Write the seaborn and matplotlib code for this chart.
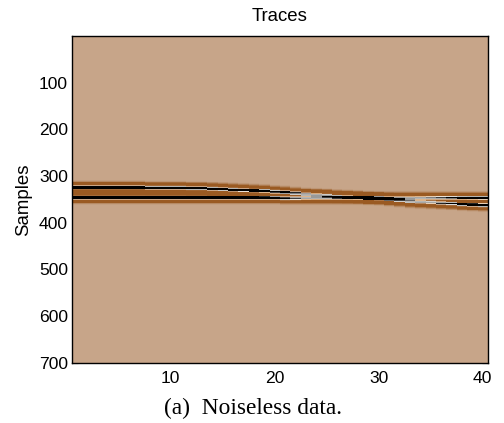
import numpy as np
import matplotlib
matplotlib.use("Agg")
import matplotlib.pyplot as plt
from matplotlib.colors import LinearSegmentedColormap
import seaborn as sns

# arrival sample of each event, one value per trace
event_a = [324, 324, 324, 324, 324, 324, 324, 325, 325, 325,
           325, 326, 326, 327, 328, 329, 330, 331, 332, 334,
           335, 337, 339, 340, 341, 343, 344, 345, 347, 348,
           350, 352, 354, 355, 356, 357, 358, 360, 361, 362]
event_b = [346] * 20 + [347] * 20

# wavelet amplitude by distance in samples from the arrival
wavelet = [1.0, 1.0, 0.95, 0.55, 0.05, -0.28, -0.4, -0.45, -0.44, -0.42,
           -0.36, -0.28, -0.2, -0.13, -0.07, -0.03, -0.01, 0.0]

n_samples = 700
x_ticks = [10, 20, 30, 40]
y_ticks = [100, 200, 300, 400, 500, 600, 700]

data = np.zeros((n_samples, len(event_a)))
for col, (a, b) in enumerate(zip(event_a, event_b)):
    for arrival in (a, b):
        for dist, amp in enumerate(wavelet):
            data[arrival + dist, col] += amp
            if dist > 0:
                data[arrival - dist, col] += amp

cmap = LinearSegmentedColormap.from_list("traces", [
    (0.0, "#9a5a22"),
    (0.06, "#9a5a22"),
    (0.3, "#c7a68a"),
    (0.45, "#d9a878"),
    (0.6, "#f0ece6"),
    (0.72, "#8a8a8a"),
    (0.83, "#000000"),
    (1.0, "#000000"),
])

sns.set_theme(style="white")
plt.rcParams["font.family"] = ["Liberation Sans", "DejaVu Sans"]

fig = plt.figure(figsize=(5.04, 4.23), dpi=100)
ax = fig.add_axes([72 / 504, 1 - 362.5 / 423, 416 / 504, 326.5 / 423])
sns.heatmap(data, ax=ax, cmap=cmap, vmin=-0.45, vmax=1.05, cbar=False,
            xticklabels=False, yticklabels=False)

ax.set_xticks([t - 0.5 for t in x_ticks])
ax.set_xticklabels(x_ticks, rotation=0)
ax.set_yticks(y_ticks)
ax.set_yticklabels(y_ticks, rotation=0)
ax.tick_params(direction="in", length=4, width=0.8, color="black", labelcolor="black",
               labelsize=12.6, top=True, right=True, left=True, bottom=True, pad=3)
ax.tick_params(axis="x", pad=6)
for spine in ax.spines.values():
    spine.set_visible(True)
    spine.set_color("black")
    spine.set_linewidth(1.0)

ax.set_title("Traces", fontsize=13.4, color="black", pad=11)
ax.set_ylabel("Samples", fontsize=13.4, color="black", labelpad=5)
fig.text(253 / 504, 1 - 408 / 423, "(a)  Noiseless data.", family="Liberation Serif",
         fontsize=16.8, color="black", ha="center", va="center")

fig.savefig("out.png", dpi=100)
